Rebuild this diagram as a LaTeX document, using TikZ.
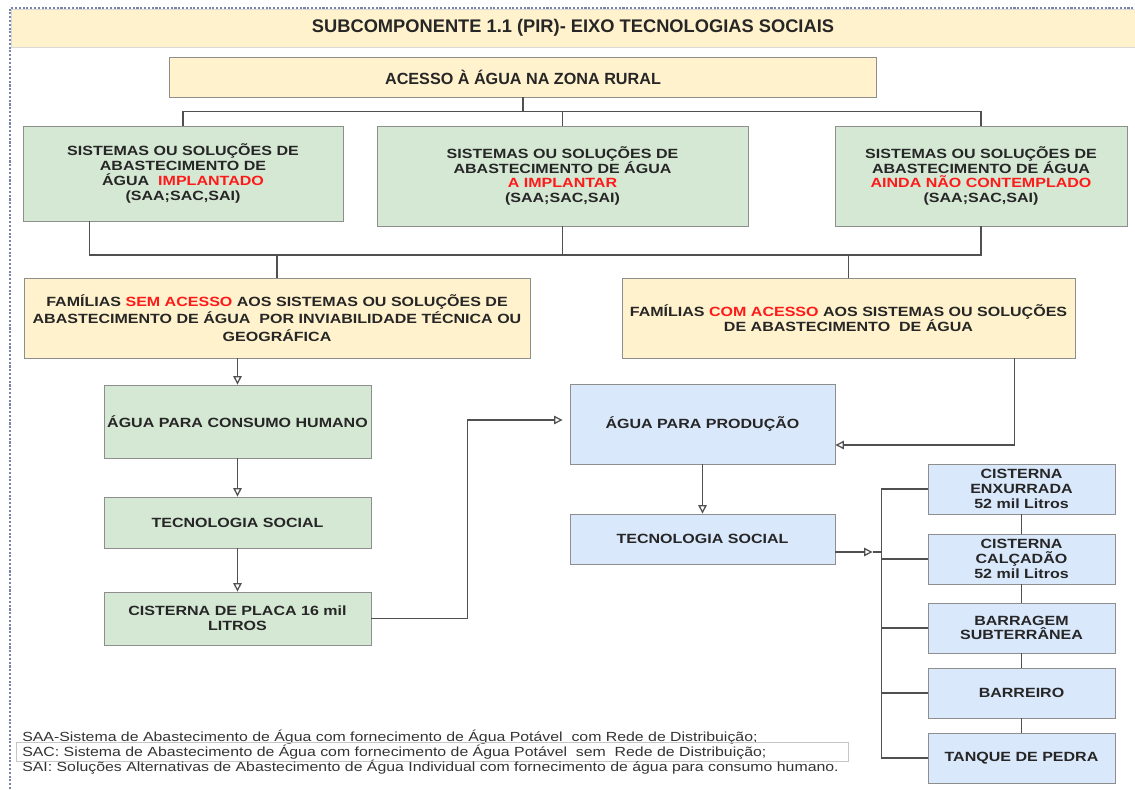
\documentclass[tikz,border=0pt]{standalone}
\usepackage{fontspec}
\setmainfont{Liberation Sans}
\newfontfamily\boxfont{Liberation Sans}[FakeStretch=1.2]
\usetikzlibrary{arrows.meta}
\usetikzlibrary{calc}
\definecolor{boxgreen}{HTML}{D5E8D4}
\definecolor{boxyellow}{HTML}{FFF2CC}
\definecolor{boxblue}{HTML}{DAE8FC}
\definecolor{linegray}{HTML}{505050}
\definecolor{framegray}{HTML}{8E8E8E}
\definecolor{redtext}{HTML}{FF1A1A}
\definecolor{borderblue}{HTML}{7884A8}
\newcommand{\redword}[1]{\textcolor{redtext}{#1}}

\begin{document}
\begin{tikzpicture}[x=0.025cm, y=-0.025cm,
    box/.style={draw=framegray, line width=0.6pt, align=center, inner sep=2pt, text=black!85,
        font=\boxfont\bfseries\fontsize{9.5}{10.5}\selectfont},
    greenbox/.style={box, fill=boxgreen},
    yellowbox/.style={box, fill=boxyellow},
    bluebox/.style={box, fill=boxblue},
    link/.style={draw=linegray, line width=0.9pt},
    arr/.style={link, -{Triangle[open, length=6pt, width=6pt]}},
    note/.style={anchor=west, inner xsep=0.15cm, inner ysep=1.5pt, text width=20.5cm, align=left,
        text=black!80, font=\boxfont\fontsize{9.4}{10}\selectfont}]
    \useasboundingbox (0,0) rectangle (1135,789);
    \node[fill=boxyellow, draw=gray!30, minimum width=28.1cm, minimum height=0.95cm,
        font=\bfseries\fontsize{13}{15}\selectfont, text=black!85] (title) at (573,28)
        {SUBCOMPONENTE 1.1 (PIR)- EIXO TECNOLOGIAS SOCIAIS};
    \draw[borderblue, line width=0.8pt, dash pattern=on 1.5pt off 1.2pt] (10,789) -- (10,8) -- (1135,8);

    \node[yellowbox, minimum width=17.65cm, minimum height=1cm,
        font=\bfseries\fontsize{11.5}{13}\selectfont] (acesso) at (523,77) {ACESSO À ÁGUA NA ZONA RURAL};

    \node[greenbox, minimum width=8cm, minimum height=2.375cm] (sis1) at (183,173.5)
        {SISTEMAS OU SOLUÇÕES DE\\ABASTECIMENTO DE\\ÁGUA\ \ \redword{IMPLANTADO}\\(SAA;SAC,SAI)};
    \node[greenbox, minimum width=9.275cm, minimum height=2.5cm] (sis2) at (562.5,176)
        {SISTEMAS OU SOLUÇÕES DE\\ABASTECIMENTO DE ÁGUA\\\redword{A IMPLANTAR}\\(SAA;SAC,SAI)};
    \node[greenbox, minimum width=7.3cm, minimum height=2.5cm] (sis3) at (981,176)
        {SISTEMAS OU SOLUÇÕES DE\\ABASTECIMENTO DE ÁGUA\\\redword{AINDA NÃO CONTEMPLADO}\\(SAA;SAC,SAI)};

    \node[yellowbox, minimum width=12.65cm, minimum height=2cm,
        font=\boxfont\bfseries\fontsize{9.5}{12.5}\selectfont] (fam1) at (277,318)
        {FAMÍLIAS \redword{SEM ACESSO} AOS SISTEMAS OU SOLUÇÕES DE\\ABASTECIMENTO DE ÁGUA\ \ POR INVIABILIDADE TÉCNICA OU\\GEOGRÁFICA};
    \node[yellowbox, minimum width=11.325cm, minimum height=2cm,
        font=\boxfont\bfseries\fontsize{9.5}{11}\selectfont] (fam2) at (848.5,318)
        {FAMÍLIAS \redword{COM ACESSO} AOS SISTEMAS OU SOLUÇÕES\\DE ABASTECIMENTO\ \ DE ÁGUA};

    \node[greenbox, minimum width=6.675cm, minimum height=1.825cm] (consumo) at (237.5,421.5) {ÁGUA PARA CONSUMO HUMANO};
    \node[greenbox, minimum width=6.675cm, minimum height=1.275cm] (tecsoc1) at (237.5,522.5) {TECNOLOGIA SOCIAL};
    \node[greenbox, minimum width=6.675cm, minimum height=1.325cm] (placa) at (237.5,618.5) {CISTERNA DE PLACA 16 mil\\LITROS};

    \node[bluebox, minimum width=6.625cm, minimum height=2cm] (producao) at (702.5,424) {ÁGUA PARA PRODUÇÃO};
    \node[bluebox, minimum width=6.625cm, minimum height=1.25cm] (tecsoc2) at (702.5,539) {TECNOLOGIA SOCIAL};

    \node[bluebox, minimum width=4.675cm, minimum height=1.25cm] (enx) at (1021.5,489) {CISTERNA\\ENXURRADA\\52 mil Litros};
    \node[bluebox, minimum width=4.675cm, minimum height=1.25cm] (calc) at (1021.5,559) {CISTERNA\\CALÇADÃO\\52 mil Litros};
    \node[bluebox, minimum width=4.675cm, minimum height=1.25cm] (barragem) at (1021.5,628) {BARRAGEM\\SUBTERRÂNEA};
    \node[bluebox, minimum width=4.675cm, minimum height=1.25cm] (barreiro) at (1021.5,693) {BARREIRO};
    \node[bluebox, minimum width=4.675cm, minimum height=1.25cm] (pedra) at (1021.5,758) {TANQUE DE PEDRA};

    \coordinate (bus1) at ($(acesso.south)+(0,14)$);
    \draw[link] (acesso.south) -- (bus1);
    \draw[link] (sis1.north) |- (bus1) -| (sis3.north);
    \draw[link] (sis2.north) -- (sis2.north |- bus1);

    \coordinate (bus2) at (569,255);
    \draw[link] ($(sis1.south west)+(67,0)$) |- (bus2) -| (sis3.south);
    \draw[link] (sis2.south) -- (sis2.south |- bus2);
    \draw[link] (fam1.north) -- (fam1.north |- bus2);
    \draw[link] (fam2.north) -- (fam2.north |- bus2);

    \draw[arr] (fam1.south -| consumo.north) -- (consumo.north);
    \draw[arr] (consumo) -- (tecsoc1);
    \draw[arr] (tecsoc1) -- (placa);
    \draw[arr] (placa.east) -- ++(96,0) |- ($(producao.west)+(-7,-4)$);
    \draw[arr] ($(fam2.south east)+(-61,0)$) |- ($(producao.east)+(0,21)$);
    \draw[arr] (producao) -- (tecsoc2);

    \coordinate (bus3) at ($(enx.west)+(-46,0)$);
    \draw[arr] ($(tecsoc2.east)+(0,13)$) -- ($(tecsoc2.east -| bus3)+(-9,13)$);
    \draw[link] ($(tecsoc2.east -| bus3)+(-9,13)$) -- ($(tecsoc2.east -| bus3)+(0,13)$);
    \draw[link] (enx.west) -- (bus3) -- (bus3 |- pedra.west) -- (pedra.west);
    \foreach \n in {calc,barragem,barreiro}
        \draw[link] (\n.west) -- (\n.west -| bus3);
    \draw[link] (enx) -- (calc);
    \draw[link] (calc) -- (barragem);
    \draw[link] (barragem) -- (barreiro);
    \draw[link] (barreiro) -- (pedra);

    \node[note] (saa) at (16,737) {SAA-Sistema de Abastecimento de Água com fornecimento de Água Potável\ \ com Rede de Distribuição;};
    \node[note, draw=gray!45] (sac) at (16,752) {SAC: Sistema de Abastecimento de Água com fornecimento de Água Potável\ \ sem\ \ Rede de Distribuição;};
    \node[note] (sai) at (16,767) {SAI: Soluções Alternativas de Abastecimento de Água Individual com fornecimento de água para consumo humano.};
\end{tikzpicture}
\end{document}
